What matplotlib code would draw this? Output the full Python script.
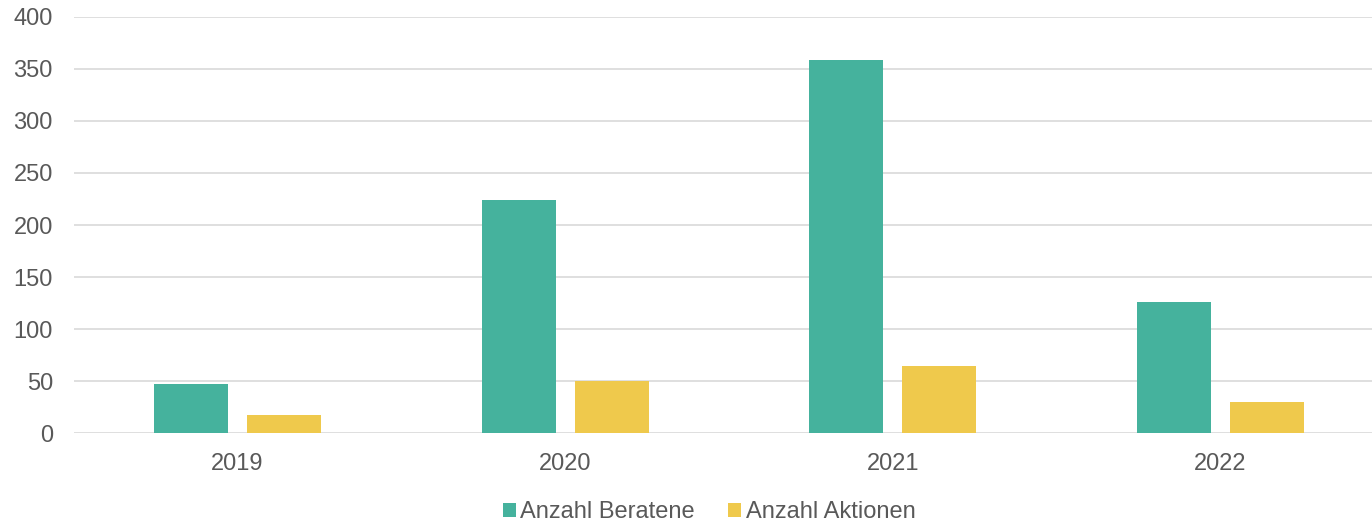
import matplotlib.pyplot as plt
import numpy as np

years = ["2019", "2020", "2021", "2022"]
beratene = [47, 224, 358, 126]
aktionen = [18, 50, 65, 30]

GREEN = "#45B29D"
YELLOW = "#EFC94C"
TEXT = "#595959"
GRID = "#D9D9D9"

plt.rcParams["font.family"] = ["Liberation Sans", "DejaVu Sans"]

W, H = 1372, 525
fig = plt.figure(figsize=(W / 100, H / 100), dpi=100)
left = 73.7 / W
bottom = (H - 433.3) / H
top = 1 - 16.7 / H
ax = fig.add_axes([left, bottom, 1 - left, top - bottom])

x = np.arange(len(years))
width = 0.2258
off = 0.142
ax.bar(x - off, beratene, width, color=GREEN, label="Anzahl Beratene", zorder=3)
ax.bar(x + off, aktionen, width, color=YELLOW, label="Anzahl Aktionen", zorder=3)

ax.set_xlim(-0.5, 3.462)
ax.set_ylim(0, 400)
ax.set_yticks(range(0, 401, 50))
ax.set_xticks(x)
ax.set_xticklabels(years)
ax.grid(axis="y", color=GRID, linewidth=1.2, zorder=0)
ax.set_axisbelow(True)
for s in ax.spines.values():
    s.set_visible(False)
ax.tick_params(axis="both", length=0, labelsize=17, colors=TEXT)
ax.tick_params(axis="y", pad=15)
ax.tick_params(axis="x", pad=14.5)

fig.legend(loc="center", bbox_to_anchor=(709 / W, 1 - 512 / H), ncol=2,
           frameon=False, fontsize=17, labelcolor=TEXT,
           handlelength=0.55, handleheight=0.55, handletextpad=0.2,
           columnspacing=1.4, borderaxespad=0)

fig.savefig("out.png", dpi=100)
